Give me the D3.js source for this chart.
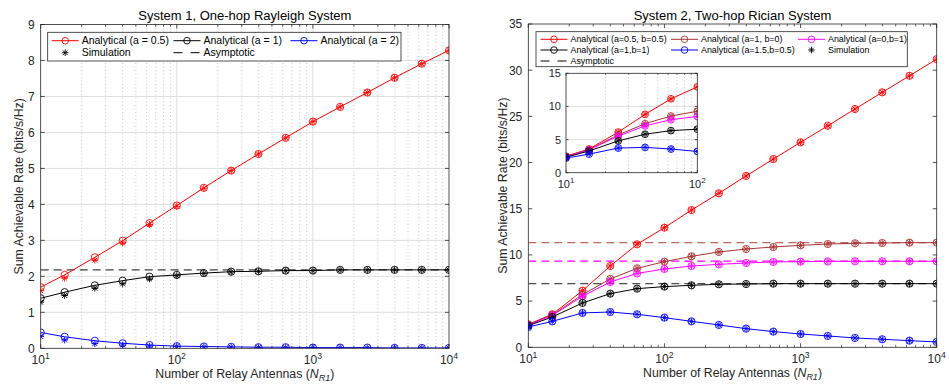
<!DOCTYPE html>
<html><head><meta charset="utf-8">
<script src="https://cdn.jsdelivr.net/npm/d3@7"></script>
<style>body{margin:0;background:#fff}svg{font-family:"Liberation Sans",Arial,sans-serif}</style>
</head><body><svg id="c" width="949" height="385"></svg>
<script>
// ---------- data ----------
const NR = [10,15,25,40,63,100,158,251,398,631,1000,1585,2512,3981,6310,10000];
// System 1 (one-hop Rayleigh)
const s1_a05 = [1.70,2.04,2.53,2.99,3.48,3.97,4.46,4.94,5.40,5.85,6.30,6.71,7.11,7.52,7.91,8.28];
const s1_a1  = [1.39,1.56,1.75,1.88,1.99,2.04,2.09,2.13,2.14,2.16,2.16,2.18,2.18,2.18,2.18,2.18];
const s1_a2  = [0.44,0.32,0.21,0.14,0.09,0.06,0.05,0.04,0.03,0.03,0.02,0.02,0.02,0.01,0.01,0.01];
const s1_sim_a05 = [1.60,1.95,2.45,2.93,3.44,3.95,4.45,4.94,5.40,5.85,6.30,6.71,7.11,7.52,7.91,8.28];
const s1_sim_a1  = [1.28,1.47,1.67,1.79,1.93,2.02,2.08,2.12,2.14,2.16,2.16,2.18,2.18,2.18,2.18,2.18];
const s1_sim_a2  = [0.33,0.23,0.13,0.09,0.06,0.05,0.04,0.03,0.02,0.02,0.02,0.02,0.01,0.01,0.01,0.01];
const s1_asym = [2.18];
// System 2 (two-hop Rician)
const s2_a05b05 = [2.49,3.57,6.13,8.80,11.15,12.95,14.86,16.67,18.55,20.38,22.19,23.98,25.80,27.60,29.39,31.20];
const s2_a1b0   = [2.45,3.50,5.70,7.40,8.55,9.27,9.85,10.32,10.64,10.86,11.04,11.18,11.26,11.29,11.33,11.33];
const s2_a0b1   = [2.40,3.45,5.52,7.07,8.00,8.48,8.80,8.98,9.13,9.24,9.27,9.30,9.31,9.31,9.31,9.31];
const s2_a1b1   = [2.34,3.28,4.80,5.81,6.35,6.57,6.71,6.82,6.85,6.89,6.89,6.89,6.89,6.89,6.89,6.89];
const s2_a15b05 = [2.20,2.81,3.72,3.82,3.57,3.21,2.81,2.42,2.02,1.70,1.44,1.23,1.01,0.87,0.72,0.58];
const s2_asym_a1b0 = [11.33];
const s2_asym_a0b1 = [9.34];
const s2_asym_a1b1 = [6.89];

const s1_yticks = [0,1,2,3,4,5,6,7,8,9];
const s2_yticks = [0,5,10,15,20,25,30,35];
const inset_yticks = [0,5,10,15];
const xdecades = [10,100,1000,10000];

const RED="#ff0000", DRED="#a83232", MAG="#ff00ff", BLK="#000000", BLU="#0000ff";
const AX="#262626";

const svg = d3.select("#c");

function minorTicks(lo, hi){
  const out=[];
  for(let d=lo; d<hi; d*=10) for(let k=2;k<=9;k++) out.push(d*k);
  return out;
}

function star(g, x, y, r, color){
  const a = r*0.7071;
  g.append("path")
   .attr("d",`M${x-r},${y}L${x+r},${y}M${x},${y-r}L${x},${y+r}M${x-a},${y-a}L${x+a},${y+a}M${x-a},${y+a}L${x+a},${y-a}`)
   .attr("stroke",color).attr("stroke-width",0.9).attr("fill","none");
}

function expLabel(g, x, y, exp, size, anchor){
  const t = g.append("text").attr("x",x).attr("y",y).attr("text-anchor",anchor||"middle")
    .attr("font-size",size).attr("fill",AX);
  t.append("tspan").text("10");
  t.append("tspan").attr("dy",-size*0.45).attr("font-size",size*0.72).text(exp);
}

let clipId=0;
function panel(o){
  const g = svg.append("g");
  const x = d3.scaleLog().domain(o.xdom).range([o.x0,o.x1]);
  const y = d3.scaleLinear().domain(o.ydom).range([o.y1,o.y0]);
  const minors = minorTicks(o.xdom[0], o.xdom[1]);
  const majorsX = xdecades.filter(v=>v>=o.xdom[0]&&v<=o.xdom[1]);
  g.append("rect").attr("x",o.x0).attr("y",o.y0).attr("width",o.x1-o.x0).attr("height",o.y1-o.y0).attr("fill","#fff");
  if(o.grid){
    g.selectAll(null).data(minors).enter().append("line")
      .attr("x1",d=>x(d)).attr("x2",d=>x(d)).attr("y1",o.y0).attr("y2",o.y1)
      .attr("stroke","#b8b8b8").attr("stroke-width",0.8).attr("stroke-dasharray","1,2.5");
    g.selectAll(null).data(majorsX.slice(1,-1)).enter().append("line")
      .attr("x1",d=>x(d)).attr("x2",d=>x(d)).attr("y1",o.y0).attr("y2",o.y1)
      .attr("stroke","#dedede").attr("stroke-width",1);
    g.selectAll(null).data(o.yticks.slice(1,-1)).enter().append("line")
      .attr("x1",o.x0).attr("x2",o.x1).attr("y1",d=>y(d)).attr("y2",d=>y(d))
      .attr("stroke","#dedede").attr("stroke-width",1);
  }
  const cid = "clip"+(clipId++);
  g.append("clipPath").attr("id",cid).append("rect")
    .attr("x",o.x0).attr("y",o.y0).attr("width",o.x1-o.x0).attr("height",o.y1-o.y0);
  const pg = g.append("g").attr("clip-path",`url(#${cid})`);
  (o.asym||[]).forEach(a=>{
    pg.append("line").attr("x1",o.x0).attr("x2",o.x1).attr("y1",y(a.v[0])).attr("y2",y(a.v[0]))
      .attr("stroke",a.color).attr("stroke-opacity",a.op||1).attr("stroke-width",1.2).attr("stroke-dasharray","8,5");
  });
  const line = d3.line().x((d,i)=>x(o.xs[i])).y(d=>y(d));
  o.series.forEach(s=>{
    const vals = s.v.slice(0,o.n);
    pg.append("path").attr("d",line(vals)).attr("fill","none").attr("stroke",s.color).attr("stroke-width",1);
    vals.forEach((v,i)=>{
      pg.append("circle").attr("cx",x(o.xs[i])).attr("cy",y(v)).attr("r",o.mr)
        .attr("fill","none").attr("stroke",s.color).attr("stroke-width",0.9);
    });
    const sv = (s.sim||s.v).slice(0,o.n);
    sv.forEach((v,i)=>star(pg, x(o.xs[i]), y(v), o.mr*0.95, s.color));
  });
  // frame
  g.append("rect").attr("x",o.x0).attr("y",o.y0).attr("width",o.x1-o.x0).attr("height",o.y1-o.y0)
    .attr("fill","none").attr("stroke",AX).attr("stroke-width",0.8);
  const tl=o.tl||4, ml=o.ml||2.5;
  // ticks
  majorsX.forEach(v=>{
    g.append("line").attr("x1",x(v)).attr("x2",x(v)).attr("y1",o.y1).attr("y2",o.y1-tl).attr("stroke",AX).attr("stroke-width",0.8);
    g.append("line").attr("x1",x(v)).attr("x2",x(v)).attr("y1",o.y0).attr("y2",o.y0+tl).attr("stroke",AX).attr("stroke-width",0.8);
    expLabel(g, x(v), o.y1+o.xlabOff, String(Math.round(Math.log10(v))), o.tfs);
  });
  minors.forEach(v=>{
    g.append("line").attr("x1",x(v)).attr("x2",x(v)).attr("y1",o.y1).attr("y2",o.y1-ml).attr("stroke",AX).attr("stroke-width",0.7);
    g.append("line").attr("x1",x(v)).attr("x2",x(v)).attr("y1",o.y0).attr("y2",o.y0+ml).attr("stroke",AX).attr("stroke-width",0.7);
  });
  o.yticks.forEach(v=>{
    g.append("line").attr("x1",o.x0).attr("x2",o.x0+tl).attr("y1",y(v)).attr("y2",y(v)).attr("stroke",AX).attr("stroke-width",0.8);
    g.append("line").attr("x1",o.x1).attr("x2",o.x1-tl).attr("y1",y(v)).attr("y2",y(v)).attr("stroke",AX).attr("stroke-width",0.8);
    g.append("text").attr("x",o.x0-o.ylabOff).attr("y",y(v)+o.tfs*0.36).attr("text-anchor","end")
      .attr("font-size",o.tfs).attr("fill",AX).text(v);
  });
  if(o.title){
    g.append("text").attr("x",(o.x0+o.x1)/2).attr("y",o.y0-4.5).attr("text-anchor","middle")
      .attr("font-size",13).attr("fill","#000").text(o.title);
  }
  if(o.xlabel){
    const t = g.append("text").attr("x",(o.x0+o.x1)/2).attr("y",o.y1+30).attr("text-anchor","middle")
      .attr("font-size",12.3).attr("fill",AX);
    t.append("tspan").text("Number of Relay Antennas (");
    t.append("tspan").attr("font-style","italic").text("N");
    t.append("tspan").attr("font-style","italic").attr("font-size",9).attr("dy",3).text("R1");
    t.append("tspan").attr("dy",-3).text(")");
  }
  if(o.ylabel){
    g.append("text").attr("transform",`translate(${o.ylx},${(o.y0+o.y1)/2}) rotate(-90)`)
      .attr("text-anchor","middle").attr("font-size",12.3).attr("fill",AX).text(o.ylabel);
  }
  return {g,x,y};
}

function legend(o){
  const g = svg.append("g");
  g.append("rect").attr("x",o.x).attr("y",o.y).attr("width",o.w).attr("height",o.h)
    .attr("fill","#fff").attr("stroke",AX).attr("stroke-width",0.8);
  o.items.forEach(it=>{
    const cx = o.cols[it.c], cy = o.rows[it.r];
    const L = 27;
    if(it.type==="line"){
      g.append("line").attr("x1",cx).attr("x2",cx+L).attr("y1",cy).attr("y2",cy).attr("stroke",it.color).attr("stroke-width",1);
      g.append("circle").attr("cx",cx+L/2).attr("cy",cy).attr("r",3.3).attr("fill","none").attr("stroke",it.color).attr("stroke-width",0.9);
    } else if(it.type==="star"){
      star(g, cx+L/2, cy, 3.3, BLK);
    } else {
      g.append("line").attr("x1",cx).attr("x2",cx+L).attr("y1",cy).attr("y2",cy).attr("stroke",BLK).attr("stroke-width",1).attr("stroke-dasharray","9,8");
    }
    g.append("text").attr("x",cx+L+3).attr("y",cy+o.fs*0.34).attr("font-size",o.fs).attr("fill","#000").text(it.label);
  });
}

// ---------- panel 1 ----------
panel({x0:40.7,x1:449,y0:24.5,y1:348.3,xdom:[10,10000],ydom:[0,9],yticks:s1_yticks,xs:NR,n:NR.length,
  grid:true,mr:3.6,tfs:12,xlabOff:16,ylabOff:6,
  title:"System 1, One-hop Rayleigh System",xlabel:true,ylabel:"Sum Achievable Rate (bits/s/Hz)",ylx:23,
  asym:[{v:s1_asym,color:BLK,op:0.75}],
  series:[{v:s1_a05,sim:s1_sim_a05,color:RED},{v:s1_a1,sim:s1_sim_a1,color:BLK},{v:s1_a2,sim:s1_sim_a2,color:BLU}]});
legend({x:47.7,y:32.3,w:353.3,h:28.7,fs:10.5,cols:[51.7,173.5,290.5],rows:[40.7,52.7],items:[
  {type:"line",color:RED,label:"Analytical (a = 0.5)",c:0,r:0},
  {type:"line",color:BLK,label:"Analytical (a = 1)",c:1,r:0},
  {type:"line",color:BLU,label:"Analytical (a = 2)",c:2,r:0},
  {type:"star",label:"Simulation",c:0,r:1},
  {type:"dash",label:"Asymptotic",c:1,r:1}]});

// ---------- panel 2 ----------
const s2series = [{v:s2_a05b05,color:RED},{v:s2_a1b0,color:DRED},{v:s2_a0b1,color:MAG},{v:s2_a1b1,color:BLK},{v:s2_a15b05,color:BLU}];
panel({x0:528.3,x1:936.7,y0:24,y1:347.3,xdom:[10,10000],ydom:[0,35],yticks:s2_yticks,xs:NR,n:NR.length,
  grid:false,mr:3.6,tfs:12,xlabOff:16,ylabOff:6,
  title:"System 2, Two-hop Rician System",xlabel:true,ylabel:"Sum Achievable Rate (bits/s/Hz)",ylx:507,
  asym:[{v:s2_asym_a1b0,color:DRED,op:0.75},{v:s2_asym_a0b1,color:MAG,op:1},{v:s2_asym_a1b1,color:BLK,op:0.7}],
  series:s2series});
legend({x:536,y:31.7,w:371.3,h:35,fs:8.9,cols:[540.5,671,798],rows:[39.3,50,61],items:[
  {type:"line",color:RED,label:"Analytical (a=0.5, b=0.5)",c:0,r:0},
  {type:"line",color:DRED,label:"Analytical (a=1, b=0)",c:1,r:0},
  {type:"line",color:MAG,label:"Analytical (a=0,b=1)",c:2,r:0},
  {type:"line",color:BLK,label:"Analytical (a=1,b=1)",c:0,r:1},
  {type:"line",color:BLU,label:"Analytical (a=1.5,b=0.5)",c:1,r:1},
  {type:"star",label:"Simulation",c:2,r:1},
  {type:"dash",label:"Asymptotic",c:0,r:2}]});
// inset
panel({x0:566,x1:697.3,y0:73.3,y1:172.7,xdom:[10,100],ydom:[0,15],yticks:inset_yticks,xs:NR,n:6,
  grid:true,mr:3.4,tfs:11,xlabOff:15,ylabOff:5,tl:2.5,ml:1.5,
  series:s2series});
</script></body></html>
